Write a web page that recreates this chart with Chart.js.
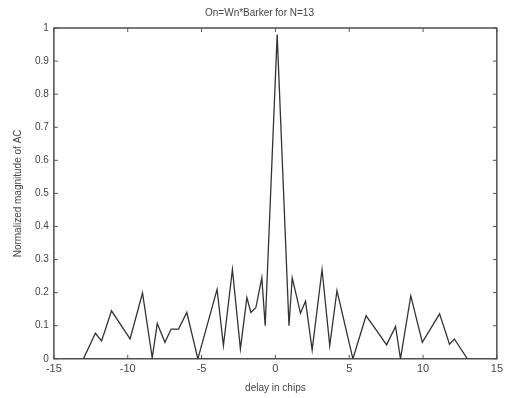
<!DOCTYPE html>
<html><head><meta charset="utf-8">
<script src="https://cdn.jsdelivr.net/npm/chart.js@4.4.0/dist/chart.umd.min.js"></script>
<style>html,body{margin:0;padding:0;background:#fff}#wrap{width:507px;height:398px}</style>
</head><body><div id="wrap"><canvas id="c" width="507" height="398"></canvas></div>
<script>
const delays = [-13, -12.19, -11.77, -11.1, -9.84, -9.0, -8.34, -8.0, -7.48, -7.06, -6.56, -6.0, -5.25,
  -3.95, -3.52, -2.91, -2.37, -1.93, -1.66, -1.32, -0.92, -0.69, 0.12, 0.92, 1.14, 1.7, 2.04, 2.49, 3.16,
  3.68, 4.17, 5.25, 6.14, 6.86, 7.53, 8.14, 8.47, 9.17, 9.95, 11.12, 11.79, 12.12, 13.0];
const magnitudes = [0, 0.077, 0.054, 0.145, 0.06, 0.199, 0.003, 0.107, 0.05, 0.09, 0.09, 0.14, 0,
  0.21, 0.04, 0.27, 0.03, 0.185, 0.14, 0.155, 0.245, 0.10, 0.98, 0.10, 0.245, 0.138, 0.174, 0.027, 0.27,
  0.04, 0.206, 0, 0.13, 0.085, 0.042, 0.098, 0, 0.19, 0.05, 0.136, 0.044, 0.06, 0];
const xTicks = [-15, -10, -5, 0, 5, 10, 15];
const yTicks = [0, 0.1, 0.2, 0.3, 0.4, 0.5, 0.6, 0.7, 0.8, 0.9, 1];
const titleText = 'On=Wn*Barker for N=13';
const xLabel = 'delay in chips';
const yLabel = 'Normalized magnitude of AC';

const ink = '#444';
const boxPlugin = {
  id: 'box',
  afterDraw(chart) {
    const {ctx, chartArea: a, scales} = chart;
    ctx.save();
    ctx.strokeStyle = '#222';
    ctx.lineWidth = 1.2;
    ctx.strokeRect(a.left, a.top, a.right - a.left, a.bottom - a.top);
    ctx.lineWidth = 1;
    ctx.strokeStyle = '#555';
    ctx.beginPath();
    xTicks.forEach(v => {
      const x = scales.x.getPixelForValue(v);
      ctx.moveTo(x, a.bottom); ctx.lineTo(x, a.bottom - 4);
      ctx.moveTo(x, a.top); ctx.lineTo(x, a.top + 4);
    });
    yTicks.forEach(v => {
      const y = scales.y.getPixelForValue(v);
      ctx.moveTo(a.left, y); ctx.lineTo(a.left + 4, y);
      ctx.moveTo(a.right, y); ctx.lineTo(a.right - 4, y);
    });
    ctx.stroke();
    ctx.restore();
  }
};

new Chart(document.getElementById('c'), {
  type: 'scatter',
  data: { datasets: [{
    data: delays.map((d, i) => ({x: d, y: magnitudes[i]})),
    showLine: true, borderColor: '#333', borderWidth: 1.3, pointRadius: 0, tension: 0
  }]},
  options: {
    responsive: false, animation: false,
    layout: { padding: { left: 12, right: 0, top: 0, bottom: 4 } },
    plugins: {
      legend: { display: false }, tooltip: { enabled: false },
      title: { display: true, text: titleText, color: ink, font: { family: 'Liberation Sans', size: 10, weight: 'normal' }, padding: { top: 7, bottom: 9 } }
    },
    scales: {
      x: {
        type: 'linear', min: -15, max: 15,
        afterBuildTicks: s => { s.ticks = xTicks.map(v => ({value: v})); },
        grid: { display: false, drawTicks: false },
        border: { display: false },
        ticks: { color: ink, font: { family: 'Liberation Sans', size: 11 }, padding: 4, maxRotation: 0, callback: v => String(v) },
        title: { display: true, text: xLabel, color: ink, font: { family: 'Liberation Sans', size: 10 }, padding: { top: 2, bottom: 0 } }
      },
      y: {
        min: 0, max: 1,
        afterBuildTicks: s => { s.ticks = yTicks.map(v => ({value: v})); },
        grid: { display: false, drawTicks: false },
        border: { display: false },
        ticks: { color: ink, font: { family: 'Liberation Sans', size: 10 }, padding: 5, callback: v => String(Math.round(v * 10) / 10) },
        title: { display: true, text: yLabel, color: ink, font: { family: 'Liberation Sans', size: 10 }, padding: { top: 0, bottom: 6 } }
      }
    }
  },
  plugins: [boxPlugin]
});
</script></body></html>
